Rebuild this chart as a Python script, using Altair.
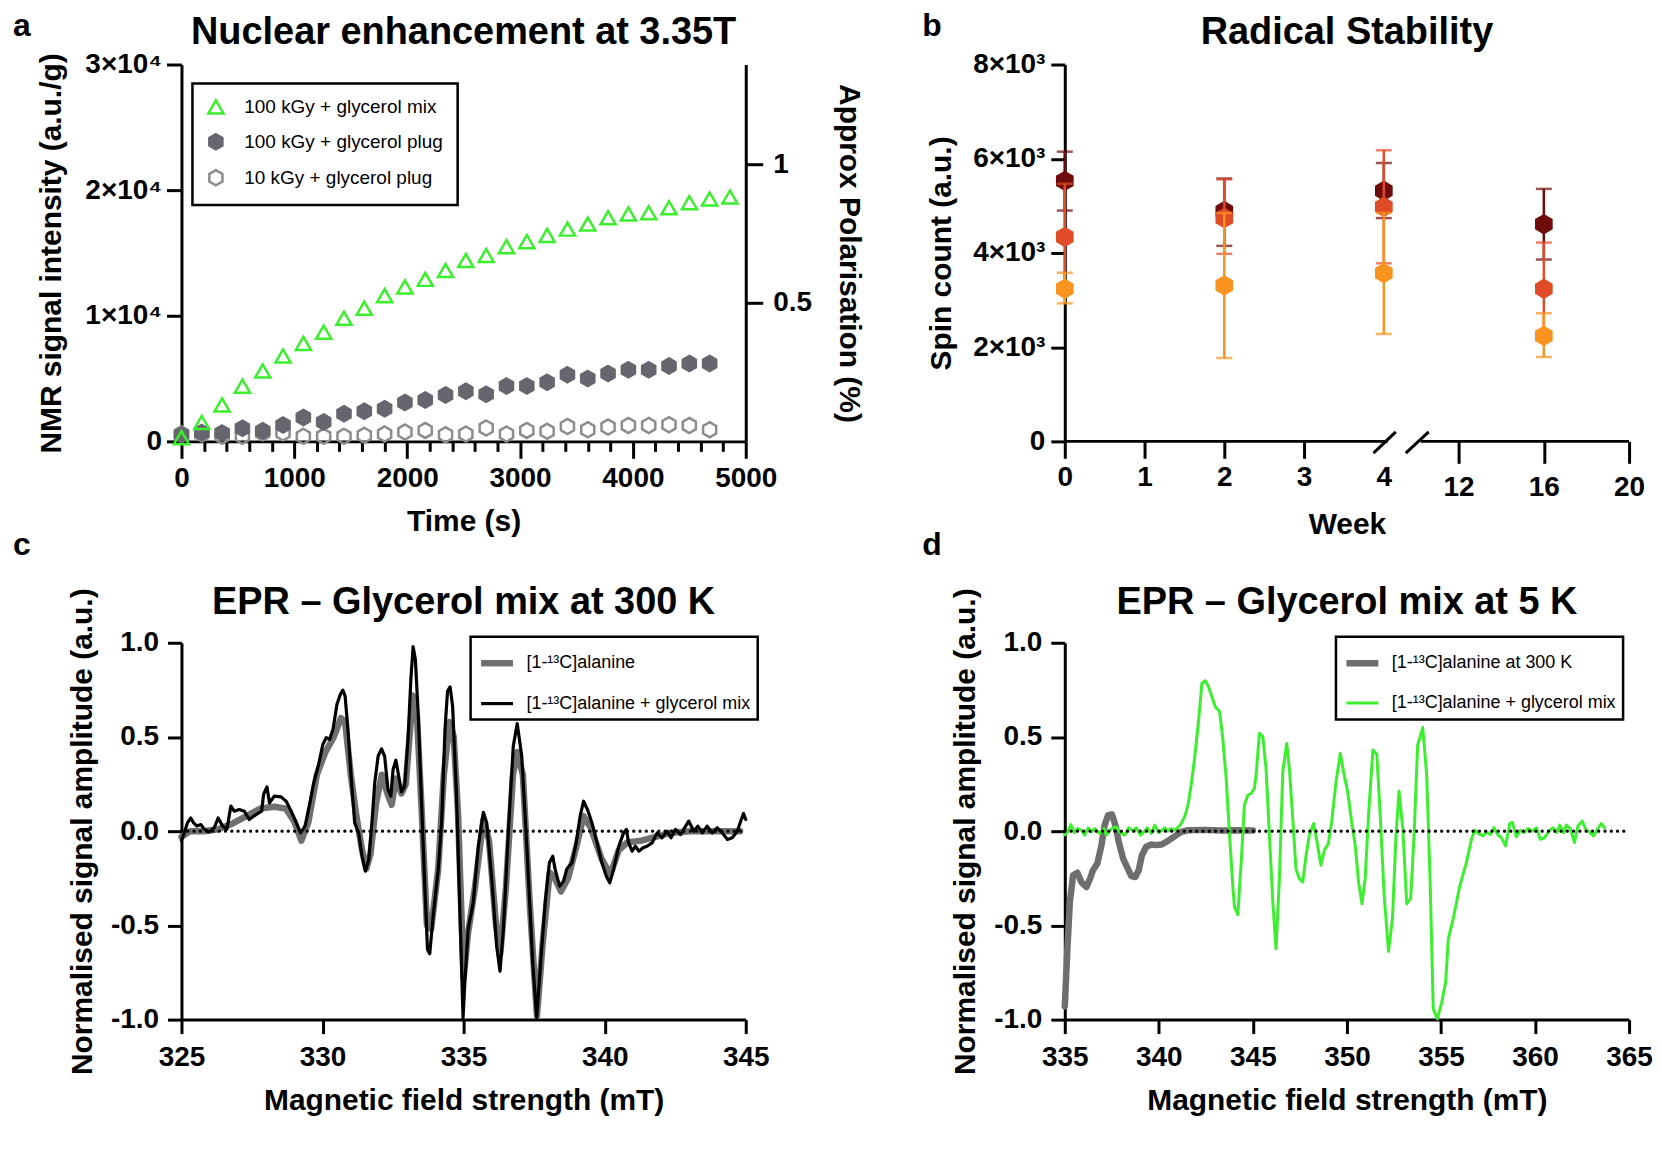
import altair as alt
import pandas as pd

FONT = "Liberation Sans"
GREEN = "#3CEF2E"
HEX = "M0,-1L0.866,-0.5L0.866,0.5L0,1L-0.866,0.5L-0.866,-0.5Z"
W, H = 566, 378

# ---------------- Panel a : nuclear enhancement ----------------
a_time_mix = [0, 180, 360, 540, 720, 900, 1080, 1260, 1440, 1620, 1800, 1980, 2160, 2340,
              2520, 2700, 2880, 3060, 3240, 3420, 3600, 3780, 3960, 4140, 4320, 4500, 4680, 4860]
a_mix_100 = [300, 1500, 2900, 4400, 5600, 6800, 7800, 8700, 9800, 10600, 11600, 12300, 12900, 13600,
             14400, 14800, 15500, 15900, 16400, 16900, 17300, 17800, 18100, 18200, 18600, 19000, 19300, 19450]
a_time_plug = [0, 180, 360, 540, 720, 900, 1080, 1260, 1440, 1620, 1800, 1980, 2160, 2340,
               2520, 2700, 2880, 3060, 3240, 3420, 3600, 3780, 3960, 4140, 4320, 4500, 4680]
a_plug_100 = [500, 700, 660, 1050, 850, 1300, 1900, 1550, 2200, 2400, 2600, 3100, 3300, 3700,
              4000, 3750, 4400, 4400, 4700, 5300, 5000, 5400, 5700, 5700, 6000, 6200, 6200]
a_plug_10 = [600, 580, 400, 400, 660, 660, 400, 400, 400, 480, 580, 740, 875, 530,
             580, 1060, 580, 875, 800, 1190, 930, 1140, 1270, 1270, 1330, 1270, 930]
a_series = ["100 kGy + glycerol mix", "100 kGy + glycerol plug", "10 kGy + glycerol plug"]
a_strokes = [GREEN, "#66666E", "#8C8C8C"]
a_fills = ["transparent", "#66666E", "transparent"]
a_x_ticks = [0, 200, 400, 600, 800, 1000, 1200, 1400, 1600, 1800, 2000, 2200, 2400, 2600,
             2800, 3000, 3200, 3400, 3600, 3800, 4000, 4200, 4400, 4600, 4800, 5000]
a_y_ticks = [0, 10000, 20000, 30000]
a_pol_ticks = [0.5, 1.0]

# ---------------- Panel b : radical stability ----------------
b_weeks = [0, 2, 4, 16]
b_series = ["70 kGy + glycerol mix", "50 kGy + glycerol mix", "30 kGy + glycerol mix"]
b_colors = ["#6E0B0B", "#E04B28", "#F7931E"]
b_spin = [[5530, 4890, 5320, 4610], [4340, 4740, 4980, 3240], [3240, 3310, 3570, 2240]]
b_hi = [[6150, 5580, 5910, 5360], [5470, 5560, 6180, 4220], [3580, 4850, 4850, 2720]]
b_lo = [[4900, 4150, 4740, 3860], [3210, 3980, 3780, 2260], [2930, 1770, 2280, 1790]]
b_x_ticks = [0, 1, 2, 3, 4, 12, 16, 20]
b_y_ticks = [0, 2000, 4000, 6000, 8000]
b_axis_x0 = [0, 7.95]
b_axis_x1 = [4.43, 20]
b_break_x0 = [3.87, 6.35]
b_break_x1 = [5.28, 8.8]
b_break_y0 = [-250, -250]
b_break_y1 = [200, 200]

# ---------------- Panel c : EPR 300 K ----------------
c_field_mix = [325.0, 325.1, 325.21, 325.33, 325.43, 325.55, 325.69, 325.8, 325.98, 326.16, 326.3, 326.46,
               326.61, 326.75, 326.87, 327.05, 327.23, 327.4, 327.64, 327.84, 327.91, 328.03, 328.12, 328.29,
               328.53, 328.71, 328.89, 329.06, 329.22, 329.38, 329.54, 329.69, 329.86, 330.01, 330.13, 330.25,
               330.37, 330.51, 330.63, 330.72, 330.8, 330.9, 331.02, 331.14, 331.28, 331.4, 331.52, 331.64,
               331.75, 331.85, 331.97, 332.09, 332.2, 332.32, 332.42, 332.5, 332.6, 332.7, 332.8, 332.91,
               333.03, 333.13, 333.21, 333.29, 333.39, 333.5, 333.63, 333.72, 333.8, 333.92, 334.1, 334.22,
               334.34, 334.43, 334.52, 334.61, 334.75, 334.87, 334.98, 335.05, 335.16, 335.34, 335.52, 335.7,
               335.82, 336.0, 336.17, 336.29, 336.41, 336.59, 336.76, 336.9, 337.06, 337.24, 337.45, 337.59,
               337.73, 337.89, 338.04, 338.16, 338.24, 338.4, 338.54, 338.66, 338.84, 338.99, 339.13, 339.25,
               339.39, 339.55, 339.73, 339.9, 340.06, 340.18, 340.32, 340.5, 340.67, 340.77, 340.85, 340.97,
               341.09, 341.21, 341.36, 341.5, 341.68, 341.86, 342.03, 342.21, 342.35, 342.51, 342.69, 342.83,
               342.98, 343.16, 343.3, 343.46, 343.63, 343.81, 343.99, 344.17, 344.35, 344.52, 344.7, 344.82,
               344.92, 345.0]
c_amp_mix = [-0.05, -0.01, 0.044, 0.07, 0.044, 0.027, 0.035, 0.012, -0.005, 0.018, 0.07, 0.027,
             0.01, 0.133, 0.106, 0.115, 0.106, 0.062, 0.088, 0.106, 0.195, 0.235, 0.15, 0.186,
             0.182, 0.159, 0.106, 0.048, -0.009, 0.027, 0.142, 0.257, 0.354, 0.46, 0.496, 0.487,
             0.54, 0.673, 0.726, 0.749, 0.717, 0.54, 0.274, 0.044, -0.009, -0.133, -0.212, -0.15,
             0.044, 0.257, 0.398, 0.437, 0.398, 0.221, 0.186, 0.327, 0.377, 0.292, 0.209, 0.239,
             0.487, 0.805, 0.979, 0.912, 0.628, 0.186, -0.31, -0.628, -0.65, -0.451, -0.204, 0.044,
             0.54, 0.743, 0.766, 0.664, 0.186, -0.434, -0.99, -0.787, -0.52, -0.38, -0.08, 0.10,
             0.044, -0.257, -0.61, -0.743, -0.52, 0.009, 0.451, 0.571, 0.398, -0.08, -0.7, -0.99,
             -0.70, -0.38, -0.168, -0.133, -0.2, -0.292, -0.265, -0.2, -0.168, -0.062, 0.08, 0.159,
             0.115, 0.044, -0.062, -0.168, -0.239, -0.274, -0.2, -0.08, -0.009, 0.009, -0.062, -0.106,
             -0.08, -0.106, -0.088, -0.08, -0.062, -0.009, -0.035, 0.0, -0.035, 0.009, -0.018, 0.018,
             0.053, 0.0, 0.027, -0.009, 0.027, -0.009, 0.018, -0.009, -0.044, -0.035, 0.0, 0.053,
             0.094, 0.062]
c_field_ala = [325.0, 325.3, 325.8, 326.3, 326.8, 327.3, 327.8, 328.3, 328.7, 329.0, 329.25, 329.5,
               329.8, 330.1, 330.4, 330.65, 330.8, 331.0, 331.2, 331.4, 331.55, 331.7, 331.9, 332.1,
               332.3, 332.45, 332.6, 332.8, 332.95, 333.2, 333.35, 333.5, 333.7, 333.85, 334.1, 334.3,
               334.5, 334.65, 334.8, 335.0, 335.15, 335.4, 335.7, 335.9, 336.15, 336.3, 336.5, 336.75,
               336.9, 337.1, 337.35, 337.6, 337.8, 338.05, 338.2, 338.45, 338.7, 339.0, 339.25, 339.5,
               339.9, 340.2, 340.5, 340.8, 341.3, 341.8, 342.3, 343.0, 344.0, 344.8]
c_amp_ala = [-0.03, 0.0, 0.0, 0.01, 0.04, 0.08, 0.12, 0.13, 0.12, 0.05, -0.05, 0.05,
             0.3, 0.42, 0.5, 0.6, 0.58, 0.3, 0.08, -0.1, -0.2, -0.12, 0.15, 0.3,
             0.2, 0.14, 0.28, 0.2, 0.25, 0.72, 0.6, 0.15, -0.5, -0.52, -0.2, 0.3,
             0.58, 0.5, 0.1, -0.78, -0.55, -0.3, 0.06, -0.05, -0.5, -0.65, -0.3, 0.3,
             0.42, 0.3, -0.4, -0.98, -0.6, -0.22, -0.24, -0.32, -0.25, -0.08, 0.08, 0.02,
             -0.15, -0.23, -0.1, -0.06, -0.05, -0.03, -0.01, 0.0, 0.0, 0.0]
c_series = ["[1-¹³C]alanine", "[1-¹³C]alanine + glycerol mix"]
c_colors = ["#707070", "#000000"]
c_widths = [6.5, 3.2]
c_xlim = [325, 345]
c_x_ticks = [325, 330, 335, 340, 345]

# ---------------- Panel d : EPR 5 K ----------------
d_field_ala = [335.0, 335.14, 335.27, 335.44, 335.67, 335.88, 336.15, 336.33, 336.5, 336.73, 336.95,
               337.12, 337.3, 337.51, 337.69, 337.87, 338.1, 338.33, 338.54, 338.75, 338.93, 339.1,
               339.33, 339.6, 339.86, 340.13, 340.4, 340.66, 340.93, 341.19, 341.55, 342.43, 343.31,
               344.2, 345.0]
d_amp_ala = [-0.93, -0.62, -0.376, -0.234, -0.22, -0.27, -0.296, -0.255, -0.207, -0.172, -0.074,
             0.032, 0.085, 0.089, 0.032, -0.057, -0.145, -0.195, -0.238, -0.243, -0.207, -0.128,
             -0.083, -0.071, -0.074, -0.071, -0.057, -0.039, -0.021, -0.004, 0.005, 0.007, 0.004,
             0.005, 0.004]
d_field_mix = [335.0, 335.18, 335.32, 335.5, 335.67, 335.88, 336.06, 336.24, 336.42, 336.59, 336.86,
               337.09, 337.21, 337.48, 337.74, 337.92, 338.18, 338.4, 338.63, 338.8, 339.03, 339.21,
               339.39, 339.6, 339.78, 339.99, 340.17, 340.31, 340.48, 340.66, 340.84,
               341.01, 341.19, 341.37, 341.55, 341.72, 341.9, 342.11, 342.29, 342.47, 342.64, 342.82,
               343.0, 343.23, 343.4, 343.58, 343.76, 343.93, 344.02, 344.2, 344.38, 344.55, 344.73,
               344.91, 345.08, 345.17, 345.35, 345.53, 345.7, 345.88, 346.06, 346.23, 346.41, 346.59,
               346.8, 346.94, 347.12, 347.29, 347.47, 347.65, 347.83, 348.0, 348.23, 348.41, 348.62,
               348.8, 349.01, 349.19, 349.42, 349.65, 349.82, 350.04, 350.25, 350.44, 350.62, 350.8,
               350.97, 351.15, 351.38, 351.59, 351.77, 351.98, 352.21, 352.42, 352.61, 352.77, 352.97,
               353.18, 353.39, 353.57, 353.76, 354.03, 354.24, 354.42, 354.59, 354.81, 355.04, 355.25,
               355.39, 355.65, 356.01, 356.36, 356.63, 356.8, 356.98, 357.24, 357.42, 357.63, 357.81,
               358.04, 358.22, 358.43, 358.66, 358.8, 359.01, 359.22, 359.45, 359.63, 359.86, 360.07,
               360.28, 360.51, 360.74, 360.95, 361.17, 361.31, 361.52, 361.66, 361.87, 362.1, 362.28,
               362.51, 362.72, 362.9, 363.11, 363.29, 363.52, 363.69]
d_amp_mix = [-0.02, 0.0, 0.035, -0.007, 0.014, 0.005, -0.021, 0.018, -0.004, 0.014, -0.012,
             0.014, -0.021, 0.014, 0.023, -0.004, -0.021, 0.018, 0.0, 0.018, -0.021, -0.004,
             0.018, -0.012, 0.032, -0.007, 0.005, 0.018, 0.0, 0.014, 0.005,
             0.018, 0.04, 0.076, 0.138, 0.245, 0.387, 0.582, 0.785, 0.798, 0.768, 0.715,
             0.661, 0.635, 0.493, 0.28, -0.021, -0.287, -0.402, -0.443, -0.163, 0.138, 0.191,
             0.2, 0.227, 0.298, 0.52, 0.502, 0.333, -0.021, -0.376, -0.624, -0.252, 0.316,
             0.466, 0.333, 0.067, -0.199, -0.252, -0.27, -0.128, -0.021, 0.041, -0.057, -0.181,
             -0.101, -0.066, 0.05, 0.262, 0.413, 0.316, 0.209, 0.05, -0.074, -0.27, -0.385,
             -0.252, 0.085, 0.431, 0.408, 0.085, -0.34, -0.638, -0.465, -0.021, 0.213, 0.014,
             -0.385, -0.358, -0.021, 0.457, 0.55, 0.298, -0.252, -0.943, -0.996, -0.908, -0.801,
             -0.571, -0.465, -0.287, -0.163, -0.039, 0.005, -0.012, -0.025, -0.004, -0.018, 0.018,
             -0.021, -0.035, -0.078, 0.041, 0.046, -0.03, 0.005, -0.007, 0.014, 0.0, 0.018,
             -0.043, -0.035, 0.0, 0.018, -0.007, 0.032, -0.007, 0.032, 0.014, -0.06, 0.028,
             0.053, 0.005, -0.004, -0.025, 0.005, 0.041, 0.018]
d_series = ["[1-¹³C]alanine at 300 K", "[1-¹³C]alanine + glycerol mix"]
d_colors = ["#6E6E6E", GREEN]
d_widths = [6.5, 3.0]
d_xlim = [335, 365]
d_x_ticks = [335, 340, 345, 350, 355, 360, 365]

amp_ticks = [-1, -0.5, 0, 0.5, 1]
AMP_LABEL = "datum.value < 0 ? '-' + format(-datum.value, '.1f') : format(datum.value, '.1f')"


def text_layer(txt, x, y, size, align="left"):
    return alt.Chart(pd.DataFrame({"txt": [txt]})).mark_text(
        font=FONT, fontSize=size, fontWeight="bold", align=align,
        baseline="alphabetic", color="black"
    ).encode(text="txt:N", x=alt.value(x), y=alt.value(y))


# ======== Panel a ========
df_a = pd.concat([
    pd.DataFrame({"t": a_time_plug, "v": a_plug_10, "series": a_series[2]}),
    pd.DataFrame({"t": a_time_plug, "v": a_plug_100, "series": a_series[1]}),
    pd.DataFrame({"t": a_time_mix, "v": a_mix_100, "series": a_series[0]}),
], ignore_index=True)

leg_a = alt.Legend(title=None, orient="none", legendX=11, legendY=19, labelFontSize=19,
                   labelFont=FONT, labelLimit=400, symbolSize=230, symbolStrokeWidth=2.5, padding=14,
                   rowPadding=9, labelOffset=19, fillColor="white")
ax_a_x = alt.Axis(values=a_x_ticks, title="Time (s)", format="d", labelOverlap=False,
                  labelExpr="datum.value % 1000 == 0 ? datum.label : ''",
                  tickSize={"condition": {"test": "datum.value % 1000 == 0", "value": 17}, "value": 10},
                  labelPadding=6, titlePadding=14)
ax_a_y = alt.Axis(values=a_y_ticks, title="NMR signal intensity (a.u./g)",
                  labelExpr="datum.value == 0 ? '0' : format(datum.value / 10000, 'd') + '×10⁴'",
                  tickSize=15, labelPadding=5, titlePadding=18)
ax_a_r = alt.Axis(orient="right", values=a_pol_ticks, title="Approx Polarisation (%)",
                  labelExpr="format(datum.value, '~g')", tickSize=17, labelPadding=10,
                  titlePadding=22)

pts_a = alt.Chart(df_a).mark_point(size=230, strokeWidth=2.5, opacity=1).encode(
    x=alt.X("t:Q", scale=alt.Scale(domain=[0, 5000], nice=False), axis=ax_a_x),
    y=alt.Y("v:Q", scale=alt.Scale(domain=[0, 30000], nice=False), axis=ax_a_y),
    shape=alt.Shape("series:N", scale=alt.Scale(domain=a_series, range=["triangle-up", HEX, HEX]), legend=leg_a),
    stroke=alt.Stroke("series:N", scale=alt.Scale(domain=a_series, range=a_strokes), legend=leg_a),
    fill=alt.Fill("series:N", scale=alt.Scale(domain=a_series, range=a_fills), legend=leg_a),
)
pol_a = alt.Chart(pd.DataFrame({"pol": a_pol_ticks})).mark_point(opacity=0).encode(
    y=alt.Y("pol:Q", scale=alt.Scale(domain=[0, 1.36], nice=False, zero=False), axis=ax_a_r)
)
panel_a = alt.layer(
    pts_a, pol_a,
    text_layer("a", -169, -29, 32),
    text_layer("Nuclear enhancement at 3.35T", W / 2, -21, 38, "center"),
).resolve_scale(y="independent").properties(width=W, height=H)

# ======== Panel b ========
xscale_b = alt.Scale(domain=[0, 4, 12, 20], range=[0, 320, 395, 566], nice=False, zero=False)
yscale_b = alt.Scale(domain=[0, 8000], nice=False)
ax_b_x = alt.Axis(values=b_x_ticks, title="Week", domain=False, labelOverlap=False,
                  tickSize={"condition": {"test": "datum.value > 5", "value": 22}, "value": 17},
                  tickOpacity={"condition": {"test": "datum.value == 4", "value": 0}, "value": 1},
                  labelPadding={"condition": {"test": "datum.value > 5", "value": 10}, "value": 5},
                  titlePadding=8)
ax_b_y = alt.Axis(values=b_y_ticks, title="Spin count (a.u.)",
                  labelExpr="datum.value == 0 ? '0' : format(datum.value / 1000, 'd') + '×10³'",
                  tickSize=14, labelPadding=6, titlePadding=16)
leg_b = alt.Legend(title=None, orient="none", legendX=20, legendY=18, labelFontSize=19,
                   labelFont=FONT, labelLimit=400, symbolSize=400, symbolType=HEX, padding=8, rowPadding=6,
                   labelOffset=12, fillColor="white")

b_layers = []
for i, name in enumerate(b_series):
    dfb = pd.DataFrame({"week": b_weeks, "spin": b_spin[i], "lo": b_lo[i], "hi": b_hi[i], "series": name})
    X = alt.X("week:Q", scale=xscale_b, axis=ax_b_x)
    strk = alt.Stroke("series:N", scale=alt.Scale(domain=b_series, range=b_colors), legend=None)
    fl = alt.Fill("series:N", scale=alt.Scale(domain=b_series, range=b_colors), legend=None)
    b_layers.append(alt.Chart(dfb).mark_rule(strokeWidth=2.5).encode(
        x=X, y=alt.Y("lo:Q", scale=yscale_b, axis=ax_b_y), y2="hi:Q", stroke=strk))
    b_layers.append(alt.Chart(dfb).mark_tick(orient="horizontal", size=16, thickness=2.5).encode(
        x=X, y=alt.Y("hi:Q", scale=yscale_b, axis=ax_b_y), fill=fl))
    b_layers.append(alt.Chart(dfb).mark_tick(orient="horizontal", size=16, thickness=2.5).encode(
        x=X, y=alt.Y("lo:Q", scale=yscale_b, axis=ax_b_y), fill=fl))
    b_layers.append(alt.Chart(dfb).mark_point(filled=True, shape=HEX, size=420, opacity=1).encode(
        x=X, y=alt.Y("spin:Q", scale=yscale_b, axis=ax_b_y),
        color=alt.Color("series:N", scale=alt.Scale(domain=b_series, range=b_colors), legend=leg_b)))

axis_b = alt.Chart(pd.DataFrame({"x0": b_axis_x0, "x1": b_axis_x1, "y": [0, 0]})).mark_rule(
    strokeWidth=3, color="black").encode(
    x=alt.X("x0:Q", scale=xscale_b, axis=ax_b_x), x2="x1:Q",
    y=alt.Y("y:Q", scale=yscale_b, axis=ax_b_y))
breaks_b = alt.Chart(pd.DataFrame({"x0": b_break_x0, "x1": b_break_x1, "y0": b_break_y0,
                                   "y1": b_break_y1})).mark_rule(strokeWidth=3, color="black").encode(
    x=alt.X("x0:Q", scale=xscale_b, axis=ax_b_x), x2="x1:Q",
    y=alt.Y("y0:Q", scale=yscale_b, axis=ax_b_y), y2="y1:Q")

panel_b = alt.layer(
    axis_b, breaks_b, *b_layers,
    text_layer("b", -143, -29, 32),
    text_layer("Radical Stability", W / 2, -21, 38, "center"),
).properties(width=W, height=H)


# ======== Panels c, d ========
def epr_panel(fields, amps, series, colors, widths, xlim, xticks, legx, letter, title):
    leg = alt.Legend(title=None, orient="none", legendX=legx, legendY=-6, labelFontSize=18,
                     labelFont=FONT, labelLimit=400, symbolType="stroke", symbolSize=1024, padding=7,
                     rowPadding=9, labelOffset=10, fillColor="white")
    ax_x = alt.Axis(values=xticks, title="Magnetic field strength (mT)", format="d",
                    tickSize=14, labelPadding=10, titlePadding=14)
    ax_y = alt.Axis(values=amp_ticks, title="Normalised signal amplitude  (a.u.)",
                    labelExpr=AMP_LABEL, tickSize=14, labelPadding=9, titlePadding=13)
    xs = alt.Scale(domain=xlim, nice=False, zero=False)
    ys = alt.Scale(domain=[-1, 1], nice=False)
    layers = []
    for k in range(2):
        dfl = pd.DataFrame({"field": fields[k], "amp": amps[k], "series": series[k]})
        layers.append(alt.Chart(dfl).mark_line(strokeCap="round", strokeJoin="round").encode(
            x=alt.X("field:Q", scale=xs, axis=ax_x),
            y=alt.Y("amp:Q", scale=ys, axis=ax_y),
            color=alt.Color("series:N", scale=alt.Scale(domain=series, range=colors), legend=leg),
            strokeWidth=alt.StrokeWidth("series:N", scale=alt.Scale(domain=series, range=widths), legend=leg),
        ))
    zero = alt.Chart(pd.DataFrame({"x0": [xlim[0]], "x1": [xlim[1]], "y": [0]})).mark_rule(
        color="black", strokeWidth=3.2, strokeDash=[0.1, 6.2], strokeCap="round").encode(
        x=alt.X("x0:Q", scale=xs, axis=ax_x), x2="x1:Q", y=alt.Y("y:Q", scale=ys, axis=ax_y))
    return alt.layer(
        *layers, zero,
        text_layer(letter, -169 if letter == "c" else -143, -88, 32),
        text_layer(title, W / 2, -29, 38, "center"),
    ).properties(width=W, height=H)


panel_c = epr_panel([c_field_ala, c_field_mix], [c_amp_ala, c_amp_mix], c_series, c_colors, c_widths,
                    c_xlim, c_x_ticks, 290, "c", "EPR – Glycerol mix at 300 K")
panel_d = epr_panel([d_field_ala, d_field_mix], [d_amp_ala, d_amp_mix], d_series, d_colors, d_widths,
                    d_xlim, d_x_ticks, 272, "d", "EPR – Glycerol mix at 5 K")

RES = dict(color="independent", fill="independent", stroke="independent",
           shape="independent", strokeWidth="independent")

chart = alt.concat(
    panel_a, panel_b, panel_c, panel_d, columns=2,
    spacing={"row": 202, "column": 320}, bounds="flush"
).resolve_scale(**RES).resolve_legend(**RES).properties(
    padding={"left": 5, "top": 0, "right": 0, "bottom": 5}
).configure(font=FONT).configure_view(stroke=None).configure_axis(
    domainColor="black", domainWidth=3, tickColor="black", tickWidth=3,
    labelFont=FONT, labelFontSize=28, labelFontWeight="bold", labelColor="black",
    labelFlush=False, titleFont=FONT, titleFontSize=30, titleFontWeight="bold",
    titleColor="black", grid=False
).configure_legend(strokeColor="black", strokeWidth=2.5, labelColor="black")

chart.save("out.html", embed_options={"renderer": "svg", "actions": False})
